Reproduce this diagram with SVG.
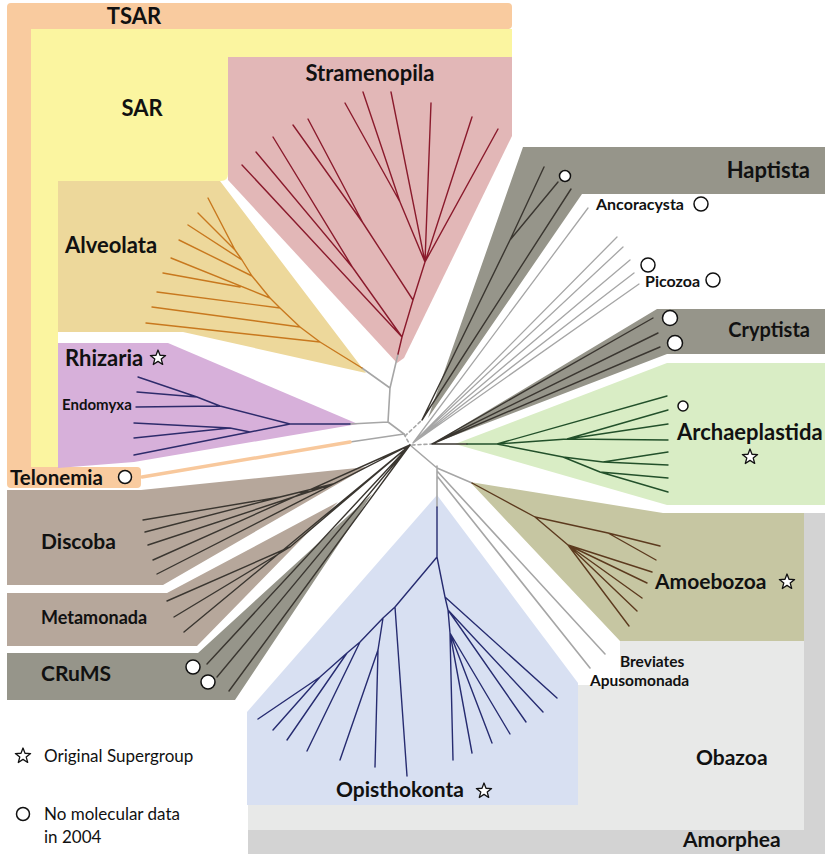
<svg xmlns="http://www.w3.org/2000/svg" width="825" height="854" viewBox="0 0 825 854">
<style>
text{font-family:Lato,"Open Sans","Liberation Sans",sans-serif;fill:#111}
.b{font-weight:bold}
.L{font-size:22px}
.M{font-size:21px}
.s{font-size:16px}
.leg{font-size:17px;font-weight:normal}
.ln{fill:none;stroke-linecap:round;stroke-linejoin:round}
.g{stroke:#a6a6a6;stroke-width:1.6}
.gd{stroke:#a6a6a6;stroke-width:1.6;stroke-dasharray:3 3}
.dk{stroke:#3a3630;stroke-width:1.4}
.st{stroke:#8a1a2c;stroke-width:1.4}
.al{stroke:#c8781e;stroke-width:1.4}
.rh{stroke:#2d2b6b;stroke-width:1.4}
.ar{stroke:#22502a;stroke-width:1.4}
.am{stroke:#5c3a1e;stroke-width:1.4}
.op{stroke:#262b70;stroke-width:1.4}
.te{stroke:#f8c89c;stroke-width:3.5}
.c{fill:#fff;stroke:#111;stroke-width:1.5}
.star{fill:#fff;stroke:#111;stroke-width:1.3;stroke-linejoin:round}
</style>
<defs>
<path id="star" d="M0,-8 L2,-2.75 L7.61,-2.47 L3.23,1.05 L4.7,6.47 L0,3.4 L-4.7,6.47 L-3.23,1.05 L-7.61,-2.47 L-2,-2.75 Z"/>
</defs>
<rect width="825" height="854" fill="#fff"/>

<g id="amorphea">
<path d="M804,513 H825 V854 H248 V830 H804 Z" fill="#d3d3d3"/>
<text class="b M" x="683" y="847">Amorphea</text>
</g>
<g id="obazoa">
<path d="M620,641 H804 V830 H248 V805 H578 V685 H620 Z" fill="#e8e9e8"/>
<text class="b M" x="696" y="765">Obazoa</text>
</g>
<g id="opisthokonta">
<path d="M437,495 L578,683 V805 H247 V712 Z" fill="#d8e0f2"/>
<text class="b M" x="336" y="797">Opisthokonta</text>
<use href="#star" class="star" x="484" y="791"/>
</g>
<g id="amoebozoa">
<path d="M470,482 L663,513 H804 V641 H620 Z" fill="#c6c6a2"/>
<text class="b M" x="655" y="589">Amoebozoa</text>
<use href="#star" class="star" x="787" y="582"/>
</g>
<g id="archaeplastida">
<path d="M667,363 H825 V505 H667 L455,444 Z" fill="#d9edc5"/>
<text class="b L" x="677" y="440">Archaeplastida</text>
<use href="#star" class="star" x="750" y="457"/>
<circle class="c" cx="683" cy="406" r="5"/>
</g>
<g id="cryptista">
<path d="M657,309 H825 V354 H667 L432,444 Z" fill="#96958a"/>
<text class="b" style="font-size:20px" x="810" y="337" text-anchor="end">Cryptista</text>
<circle class="c" cx="670" cy="318" r="7.5"/>
<circle class="c" cx="675" cy="343" r="7.5"/>
</g>
<g id="haptista">
<path d="M523,147 H825 V194 H582 L428,418 Z" fill="#96958a"/>
<text class="b L" x="810" y="178" text-anchor="end">Haptista</text>
<circle class="c" cx="565" cy="176" r="5.5"/>
</g>
<g id="ancoracysta">
<text class="b s" x="596" y="210">Ancoracysta</text>
<circle class="c" cx="701" cy="204" r="7"/>
</g>
<g id="picozoa">
<text class="b s" x="645" y="287">Picozoa</text>
<circle class="c" cx="648" cy="265" r="7"/>
<circle class="c" cx="713" cy="280" r="7"/>
</g>
<g id="breviates">
<text class="b" style="font-size:15.5px" x="620" y="667">Breviates</text>
</g>
<g id="apusomonada">
<text class="b" style="font-size:15.5px" x="590" y="686">Apusomonada</text>
</g>

<g id="tsar">
<path d="M11,3 H508 Q512,3 512,7 V25 Q512,29 508,29 H31 V467 H137 Q141,467 141,471 V484 Q141,488 137,488 H11 Q7,488 7,484 V7 Q7,3 11,3 Z" fill="#f9cb9f"/>
<text class="b L" x="134" y="24" text-anchor="middle">TSAR</text>
</g>
<g id="sar">
<path d="M31,29 H512 V57 H228 V174 Q228,181 221,181 H58 V467 H31 Z" fill="#fbf5a0"/>
<text class="b L" x="142" y="116" text-anchor="middle">SAR</text>
</g>
<g id="stramenopila">
<path d="M228,57 H512 V136 L404,358 L397,363 L228,180 Z" fill="#e2b7b7"/>
<text class="b L" x="370" y="81" text-anchor="middle">Stramenopila</text>
</g>
<g id="alveolata">
<path d="M58,181 H220 L366,373 L183,332 H58 Z" fill="#edd89b"/>
<text class="b L" x="65" y="253">Alveolata</text>
</g>
<g id="rhizaria">
<path d="M58,343 H168 L358,424 L134,462 L58,468 Z" fill="#d7b0da"/>
<text class="b L" x="65" y="366">Rhizaria</text>
<use href="#star" class="star" x="158" y="358"/>
<text class="b" style="font-size:15px" x="62" y="410">Endomyxa</text>
</g>
<g id="telonemia">
<text class="b" style="font-size:20.5px" x="10" y="485">Telonemia</text>
<circle class="c" cx="125" cy="477" r="6.5"/>
</g>
<g id="discoba">
<path d="M7,490 H141 L367,467 L163,585 H7 Z" fill="#b6a79b"/>
<text class="b M" x="41" y="549">Discoba</text>
</g>
<g id="metamonada">
<path d="M7,593 H167 L338,502 L197,646 H7 Z" fill="#b6a79b"/>
<text class="b" style="font-size:18px" x="41" y="624">Metamonada</text>
</g>
<g id="crums">
<path d="M7,653 H198 L372,494 L235,700 H7 Z" fill="#96958a"/>
<text class="b M" x="41" y="681">CRuMS</text>
<circle class="c" cx="193" cy="667" r="7"/>
<circle class="c" cx="208" cy="682" r="7"/>
</g>

<g id="legend">
<use href="#star" class="star" x="23" y="756"/>
<text class="leg" x="44" y="762">Original Supergroup</text>
<circle class="c" cx="23" cy="814" r="6.5"/>
<text class="leg" x="44" y="820">No molecular data</text>
<text class="leg" x="44" y="843">in 2004</text>
</g>

<g id="connectors" class="ln">
<path class="g" d="M350,424 L388,422 L390,388 L398,354 M390,388 L362,368 M388,422 L404,434 M350,442 L404,434 M410,445 L437,468 L472,483 M437,466 V507 M437,471 L605,654 M437,476 L590,668"/>
<path class="gd" d="M404,434 L410,445 M405,436 L422,420 M412,445 L432,444"/>
<path class="te" d="M142,477 L350,442"/>
<path class="g" style="stroke-width:1.3" d="M413,443 L588,208 M413,443 L617,237 M413,443 L623,247 M413,443 L630,260 M413,443 L634,273 M413,443 L639,284"/>
<path class="st" d="M398,354 L402,337 L413,300 L425,262 M402,337 L242,165 M402,337 L353,268 L256,152 M353,268 L273,137 M413,300 L363,223 L293,125 M363,223 L308,119 M425,262 L400,202 L345,103 M400,202 L363,92 M425,262 L391,92 M425,262 L431,103 M425,262 L472,117 M425,262 L498,129"/>
<path class="al" d="M362,368 L320,342 L300,327 L280,308 L270,298 L252,276 L242,260 L235,250 L208,198 M198,213 L235,250 M188,225 L242,260 M179,240 L252,276 M171,258 L270,298 M163,273 L240,287 M157,292 L280,308 M152,307 L300,327 M146,323 L320,342"/>
<path class="rh" d="M350,424 L290,424 L220,406 L197,397 L138,377 M197,397 L137,392 M220,406 L136,407 M290,424 L250,432 L230,428 L134,423 M230,428 L134,438 M250,432 L134,455"/>
<path class="dk" d="M410,445 L333,484 L280,497 L143,520 M280,497 L145,532 M333,484 L148,545 M410,445 L153,560 M410,445 L157,574 M410,445 L290,547 L167,601 M290,547 L174,617 M410,445 L184,632 M410,445 L207,664 M410,445 L217,677 M410,445 L229,691"/>
<path class="dk" d="M422,420 L510,240 L544,167 M510,240 L558,182 M422,420 L571,189 M432,444 L653,318 M432,444 L658,333 M432,444 L660,347 M432,444 L467,444"/>
<path class="ar" d="M467,444 L497,444 L667,396 M497,444 L567,439 L668,410 M567,439 L668,424 M567,439 L668,440 M497,444 L563,457 L603,462 L668,452 M603,462 L668,465 M563,457 L600,472 L668,478 M600,472 L668,492"/>
<path class="am" d="M472,483 L535,517 L608,533 L660,546 M608,533 L656,560 M535,517 L568,545 L652,572 M568,545 L647,583 M568,545 L642,598 M568,545 L637,611 M568,545 L629,626"/>
<path class="op" d="M437,507 L437,557 L395,607 L383,618 L360,642 L347,653 L320,677 L258,719 M320,677 L273,730 M347,653 L287,740 M360,642 L307,751 M383,618 L378,650 L340,760 M378,650 L375,767 M395,607 L407,776 M437,557 L445,597 L557,698 M445,597 L448,610 L543,712 M448,610 L526,722 M448,610 L450,633 L453,760 M450,633 L472,753 M450,633 L492,743 M450,633 L510,734"/>
</g>
</svg>
